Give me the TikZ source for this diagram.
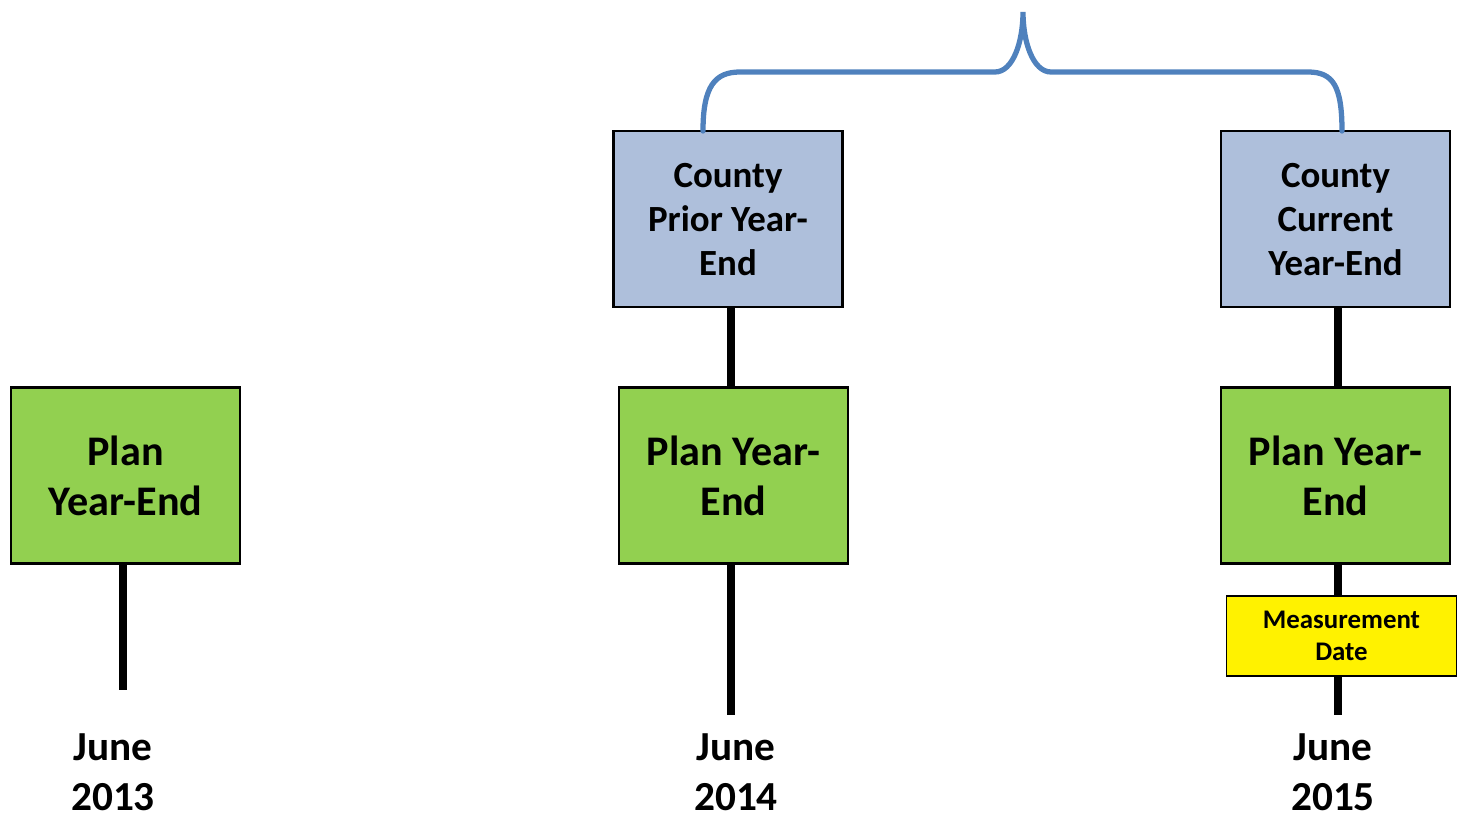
\documentclass[tikz,border=0pt]{standalone}
\usepackage{fontspec}
\setmainfont{Carlito}
\definecolor{plangreen}{RGB}{146,208,80}
\definecolor{countyblue}{RGB}{174,191,219}
\definecolor{bracelue}{RGB}{79,129,189}
\begin{document}
\begin{tikzpicture}[x=0.02cm, y=-0.02cm,
    planbox/.style={draw, line width=1.2pt, fill=plangreen, minimum width=4.58cm, minimum height=3.52cm,
        align=center, text depth=0pt, font=\fontsize{24}{28.5}\selectfont\bfseries},
    countybox/.style={draw, line width=1.2pt, fill=countyblue, minimum width=4.58cm, minimum height=3.52cm,
        align=center, text depth=0pt, font=\fontsize{21}{25}\selectfont\bfseries},
    datebox/.style={draw, line width=1pt, fill=yellow, minimum width=4.6cm, minimum height=1.6cm,
        align=center, font=\fontsize{15.3}{18.2}\selectfont\bfseries},
    yearlabel/.style={align=center, inner sep=1pt, font=\fontsize{23.5}{28.5}\selectfont\bfseries},
    stem/.style={line width=4.5pt},
    brace/.style={draw=bracelue, line width=3pt, line cap=round}]
    \useasboundingbox (0,0) rectangle (1458,818);

    % plan year-end boxes
    \node[planbox] (plan1) at (125.5,475.5) {Plan\\Year-End};
    \node[planbox] (plan2) at (733.5,475.5) {Plan Year-\\End};
    \node[planbox] (plan3) at (1335.5,475.5) {Plan Year-\\End};

    % county boxes
    \node[countybox] (county1) at (728,219) {County\\Prior Year-\\End};
    \node[countybox] (county2) at (1335.5,219) {County\\Current\\Year-End};

    \node[datebox] (meas) at (1341.5,636) {Measurement\\Date};

    % dates
    \node[yearlabel] (june13) at (113,772) {June\\2013};
    \node[yearlabel] (june14) at (736,772) {June\\2014};
    \node[yearlabel] (june15) at (1333,772) {June\\2015};

    % timeline stems
    \coordinate (end1) at (123,690);
    \coordinate (end2) at (731,715);
    \coordinate (end3) at (1338,715);
    \draw[stem] (plan1.south -| end1) -- (end1);
    \draw[stem] (county1.south -| end2) -- (plan2.north -| end2);
    \draw[stem] (plan2.south -| end2) -- (end2);
    \draw[stem] (county2.south -| end3) -- (plan3.north -| end3);
    \draw[stem] (plan3.south -| end3) -- (meas.north -| end3);
    \draw[stem] (meas.south -| end3) -- (end3);

    % brace over the county boxes
    \coordinate (brL) at (703,131);
    \coordinate (tip) at (1023,12);
    \coordinate (brR) at (1342,131);
    \draw[brace] (brL) .. controls +(0,-45) and +(-25,0) .. (740,72) -- (995,72)
        .. controls +(18,0) and +(0,30) .. (tip)
        .. controls +(0,30) and +(-18,0) .. (1051,72) -- (1308,72)
        .. controls +(25,0) and +(0,-45) .. (brR);
\end{tikzpicture}
\end{document}
